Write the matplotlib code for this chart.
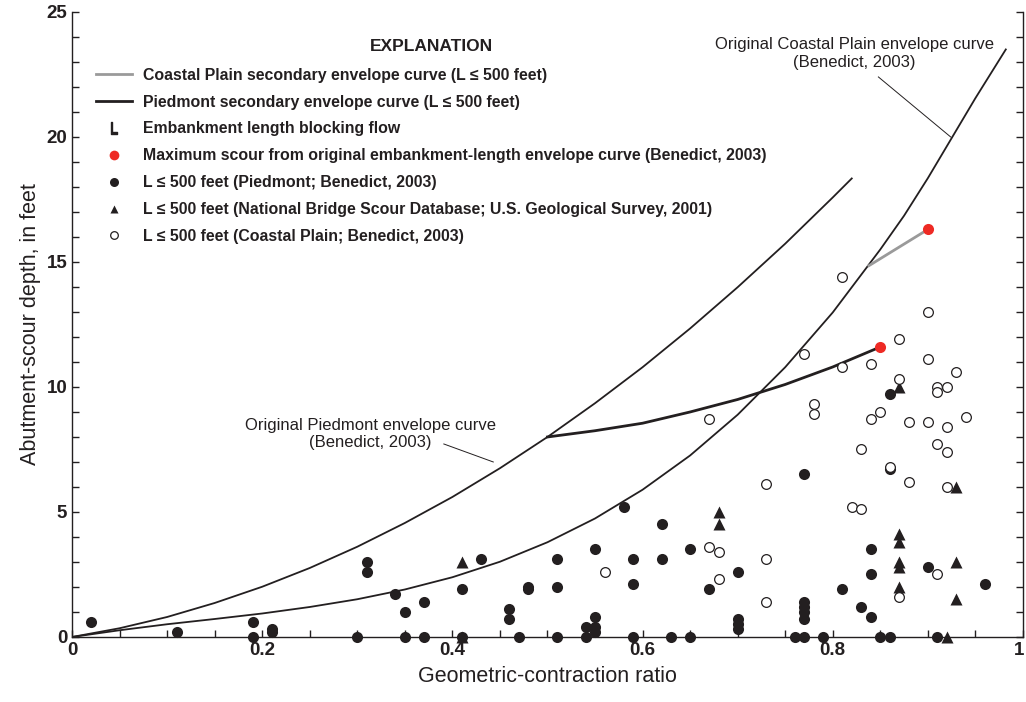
import numpy as np
import matplotlib.pyplot as plt
import matplotlib.transforms as mtransforms
from matplotlib.lines import Line2D
from matplotlib.ticker import MultipleLocator, FixedLocator

plt.rcParams['font.family'] = ['Liberation Sans', 'DejaVu Sans']

# Original envelope curves (Benedict, 2003)
piedmont_curve_x = [0, 0.05, 0.10, 0.15, 0.20, 0.25, 0.30, 0.35, 0.40, 0.45,
                    0.50, 0.55, 0.60, 0.65, 0.70, 0.75, 0.80, 0.82]
piedmont_curve_y = [0, 0.35, 0.80, 1.36, 2.01, 2.76, 3.61, 4.56, 5.60, 6.75,
                    8.00, 9.35, 10.79, 12.34, 13.99, 15.73, 17.58, 18.34]
coastal_curve_x = [0, 0.05, 0.10, 0.15, 0.20, 0.25, 0.30, 0.35, 0.40, 0.45,
                   0.50, 0.55, 0.60, 0.65, 0.70, 0.75, 0.80, 0.85, 0.875,
                   0.90, 0.925, 0.95, 0.982]
coastal_curve_y = [0, 0.27, 0.51, 0.72, 0.94, 1.20, 1.51, 1.90, 2.39, 3.01,
                   3.79, 4.74, 5.89, 7.26, 8.89, 10.79, 12.98, 15.5, 16.85,
                   18.35, 19.95, 21.55, 23.5]

# Secondary envelope curves (L <= 500 feet)
piedmont_sec_x = [0.50, 0.55, 0.60, 0.65, 0.70, 0.75, 0.80, 0.85]
piedmont_sec_y = [8.0, 8.25, 8.55, 9.0, 9.5, 10.1, 10.8, 11.6]
coastal_sec_x = [0.838, 0.90]
coastal_sec_y = [14.85, 16.3]

# Maximum scour from original embankment-length envelope curve
max_x = [0.85, 0.90]
max_y = [11.6, 16.3]

# L <= 500 feet (Piedmont; Benedict, 2003)
pied_x = [0.02, 0.11, 0.19, 0.19, 0.21, 0.21, 0.30, 0.31, 0.31, 0.34, 0.35, 0.35,
          0.37, 0.37, 0.41, 0.41, 0.43, 0.46, 0.46, 0.47, 0.48, 0.48, 0.51, 0.51,
          0.51, 0.54, 0.54, 0.55, 0.55, 0.55, 0.55, 0.58, 0.59, 0.59, 0.59, 0.62,
          0.62, 0.63, 0.65, 0.65, 0.67, 0.70, 0.70, 0.70, 0.70, 0.76, 0.77, 0.77,
          0.77, 0.77, 0.77, 0.77, 0.79, 0.81, 0.83, 0.84, 0.84, 0.84, 0.85, 0.86,
          0.86, 0.86, 0.90, 0.91, 0.96]
pied_y = [0.6, 0.2, 0.6, 0.0, 0.3, 0.2, 0.0, 3.0, 2.6, 1.7, 1.0, 0.0,
          1.4, 0.0, 1.9, 0.0, 3.1, 1.1, 0.7, 0.0, 2.0, 1.9, 3.1, 2.0,
          0.0, 0.4, 0.0, 3.5, 0.8, 0.4, 0.2, 5.2, 3.1, 2.1, 0.0, 4.5,
          3.1, 0.0, 3.5, 0.0, 1.9, 2.6, 0.7, 0.5, 0.3, 0.0, 6.5, 1.4,
          1.2, 1.0, 0.7, 0.0, 0.0, 1.9, 1.2, 3.5, 2.5, 0.8, 0.0, 0.0,
          9.7, 6.7, 2.8, 0.0, 2.1]

# L <= 500 feet (National Bridge Scour Database; U.S. Geological Survey, 2001)
nbsd_x = [0.41, 0.41, 0.68, 0.68, 0.87, 0.87, 0.87, 0.87, 0.87, 0.87, 0.92, 0.93, 0.93, 0.93]
nbsd_y = [3.0, 0.0, 5.0, 4.5, 10.0, 4.1, 3.8, 3.0, 2.8, 2.0, 0.0, 6.0, 3.0, 1.5]

# L <= 500 feet (Coastal Plain; Benedict, 2003)
coast_x = [0.56, 0.67, 0.67, 0.68, 0.68, 0.73, 0.73, 0.73, 0.77, 0.78, 0.78, 0.81,
           0.81, 0.82, 0.83, 0.83, 0.84, 0.84, 0.85, 0.86, 0.87, 0.87, 0.87, 0.88,
           0.88, 0.90, 0.90, 0.90, 0.91, 0.91, 0.91, 0.91, 0.92, 0.92, 0.92, 0.92,
           0.93, 0.94]
coast_y = [2.6, 8.7, 3.6, 3.4, 2.3, 6.1, 3.1, 1.4, 11.3, 9.3, 8.9, 14.4,
           10.8, 5.2, 7.5, 5.1, 10.9, 8.7, 9.0, 6.8, 11.9, 10.3, 1.6, 8.6,
           6.2, 13.0, 11.1, 8.6, 10.0, 9.8, 7.7, 2.5, 10.0, 8.4, 7.4, 6.0,
           10.6, 8.8]

ink = '#231f20'
gray = '#9a9a9a'
red = '#ee2a24'

fig = plt.figure(figsize=(10.26, 7.02), dpi=100)
ax = fig.add_axes([0.0702, 0.0926, 0.9268, 0.8904])

ax.plot(piedmont_curve_x, piedmont_curve_y, color=ink, lw=1.3, zorder=2)
ax.plot(coastal_curve_x, coastal_curve_y, color=ink, lw=1.3, zorder=2)
ax.plot(piedmont_sec_x, piedmont_sec_y, color=ink, lw=2.0, zorder=2)
ax.plot(coastal_sec_x, coastal_sec_y, color=gray, lw=2.0, zorder=2)

ax.plot(pied_x, pied_y, 'o', color=ink, ms=8, mec='none', clip_on=False, zorder=3)
ax.plot(nbsd_x, nbsd_y, '^', color=ink, ms=8, mec='none', clip_on=False, zorder=3)
ax.plot(coast_x, coast_y, 'o', mfc='white', mec=ink, mew=0.9, ms=7, clip_on=False, zorder=4)
ax.plot(max_x, max_y, 'o', color=red, ms=8, mec='none', zorder=5)

ax.set_xlim(0, 1)
ax.set_ylim(0, 25)
ax.spines['top'].set_visible(False)
for s in ['left', 'right', 'bottom']:
    ax.spines[s].set_linewidth(1.0)
    ax.spines[s].set_color(ink)

ax.xaxis.set_major_locator(FixedLocator([0, 0.2, 0.4, 0.6, 0.8, 1.0]))
ax.xaxis.set_minor_locator(MultipleLocator(0.05))
ax.yaxis.set_major_locator(MultipleLocator(5))
ax.yaxis.set_minor_locator(MultipleLocator(1))
ax.set_xticklabels(['0', '0.2', '0.4', '0.6', '0.8', '1'])
ax.tick_params(which='both', direction='in', color=ink, width=1.0, length=5,
               right=True, top=False, labelsize=13.5, labelcolor=ink)
for lab in ax.get_xticklabels() + ax.get_yticklabels():
    lab.set_fontweight('bold')
# keep the last x label inside the picture
last = ax.get_xticklabels()[-1]
last.set_transform(last.get_transform() +
                   mtransforms.ScaledTranslation(-3 / 72, 0, fig.dpi_scale_trans))

ax.set_xlabel('Geometric-contraction ratio', fontsize=15.5, color=ink, labelpad=5)
ax.set_ylabel('Abutment-scour depth, in feet', fontsize=15.5, color=ink, labelpad=4)

# annotations for the original curves
ax.text(0.823, 23.34, 'Original Coastal Plain envelope curve\n(Benedict, 2003)',
        ha='center', va='center', fontsize=12, color=ink, linespacing=1.2)
ax.plot([0.848, 0.924], [22.4, 20.0], color=ink, lw=0.7)
ax.text(0.314, 8.12, 'Original Piedmont envelope curve\n(Benedict, 2003)',
        ha='center', va='center', fontsize=12, color=ink, linespacing=1.2)
ax.plot([0.391, 0.443], [7.72, 7.0], color=ink, lw=0.7)

# explanation
handles = [
    Line2D([], [], color=gray, lw=2.0),
    Line2D([], [], color=ink, lw=2.0),
    Line2D([], [], ls='none', marker=r'$\mathsf{L}$', color=ink, ms=8),
    Line2D([], [], ls='none', marker='o', color=red, mec='none', ms=7),
    Line2D([], [], ls='none', marker='o', color=ink, mec='none', ms=6.5),
    Line2D([], [], ls='none', marker='^', color=ink, mec='none', ms=6),
    Line2D([], [], ls='none', marker='o', mfc='white', mec=ink, mew=0.9, ms=5.5),
]
labels = [
    'Coastal Plain secondary envelope curve (L \u2264 500 feet)',
    'Piedmont secondary envelope curve (L \u2264 500 feet)',
    'Embankment length blocking flow',
    'Maximum scour from original embankment-length envelope curve (Benedict, 2003)',
    'L \u2264 500 feet (Piedmont; Benedict, 2003)',
    'L \u2264 500 feet (National Bridge Scour Database; U.S. Geological Survey, 2001)',
    'L \u2264 500 feet (Coastal Plain; Benedict, 2003)',
]
leg = ax.legend(handles, labels, loc='upper left', bbox_to_anchor=(0.025, 0.957),
                frameon=False, borderpad=0, borderaxespad=0, handlelength=2.3,
                handletextpad=0.7, labelspacing=0.75, title='EXPLANATION',
                prop={'weight': 'bold', 'size': 11.4})
leg.get_title().set_fontweight('bold')
leg.get_title().set_fontsize(12.5)
leg._legend_box.sep = 10
for t in leg.get_texts():
    t.set_color(ink)
leg.get_title().set_color(ink)

fig.savefig('out.png', dpi=100)
